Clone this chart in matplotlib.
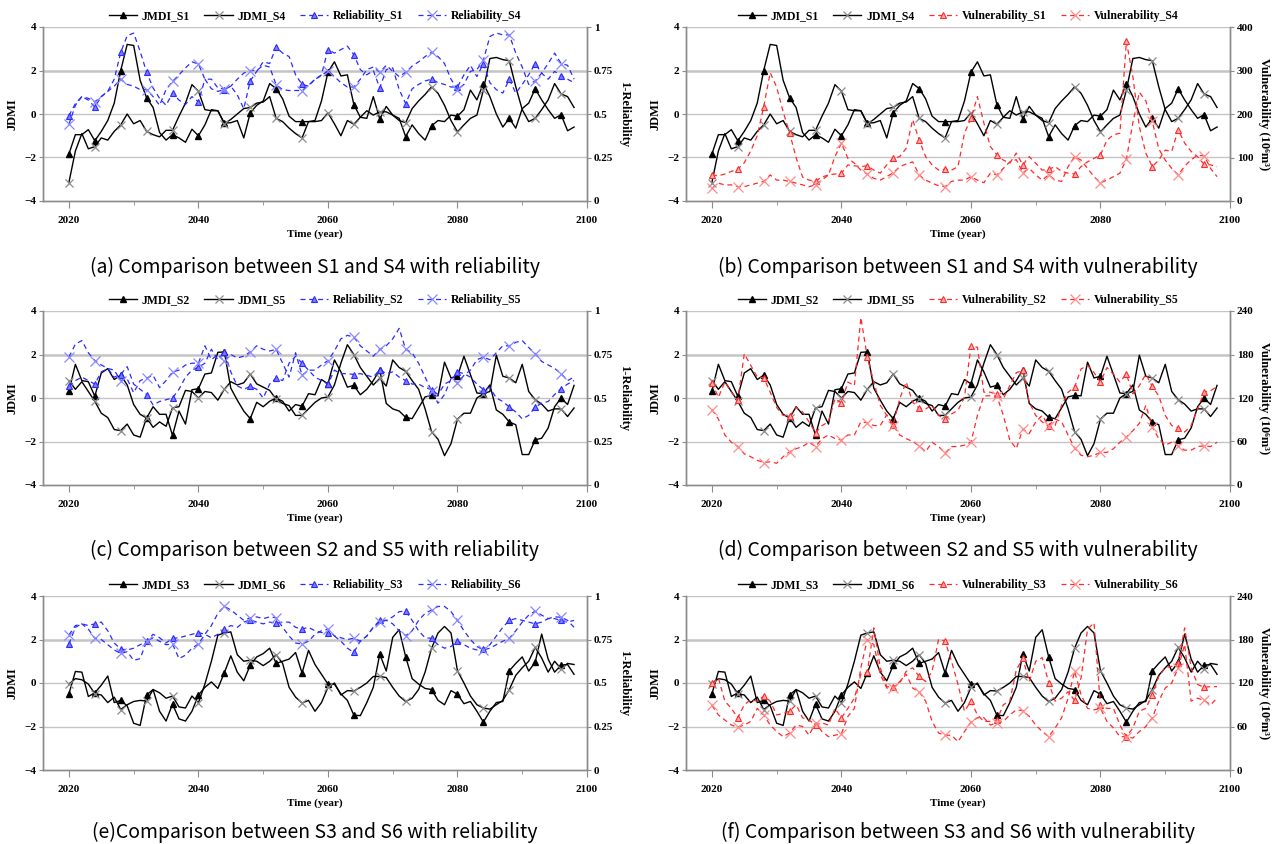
import numpy as np
import matplotlib
matplotlib.use("Agg")
import matplotlib.pyplot as plt
from matplotlib.ticker import MultipleLocator

# data: annual values 2020-2098
years = np.arange(2020, 2099)

jmdi_s1 = [-1.84, -0.95, -0.95, -0.72, -1.23, -0.8, -0.3, 0.5, 2.0, 3.2,
           3.15, 1.55, 0.74, 0.3, -0.85, -1.2, -0.95, -1.1, -1.3, -0.7,
           -1.0, -0.5, 0.2, 0.15, -0.42, -0.4, -0.3, -1.1, 0.05, 0.4,
           0.6, 1.4, 1.17, 0.7, -0.1, -0.35, -0.35, -0.35, -0.3, 0.6,
           1.92, 2.4, 1.75, 1.8, 0.43, -0.15, -0.2, 0.8, -0.23, 0.35,
           -0.05, -0.2, -1.04, -0.5, -0.9, -1.2, -0.54, -0.3, -0.35, -0.05,
           -0.1, 0.2, 1.1, 0.65, 1.4, 0.8, 0.0, -0.6, -0.2, -0.65,
           0.25, 0.5, 1.16, 0.65, 0.2, -0.2, -0.03, -0.77, -0.6]
jdmi_s4 = [-3.15, -1.7, -0.9, -1.6, -1.5, -1.1, -1.2, -0.8, -0.5, 0.0,
           -0.45, -0.3, -0.8, -0.95, -1.05, -0.75, -0.75, -0.1, 0.5, 1.35,
           1.05, 0.2, 0.15, 0.15, -0.45, -0.25, 0.0, 0.25, 0.3, 0.5,
           0.55, 0.8, -0.2, -0.35, -0.65, -0.9, -1.1, -0.35, -0.35, -0.3,
           0.05, -0.45, -1.0, -0.3, -0.47, -0.15, 0.15, -0.05, 0.1, 0.1,
           -0.05, -0.3, -0.4, 0.25, 0.6, 0.9, 1.25, 0.95, 0.4, -0.3,
           -0.82, -0.5, -0.2, -0.05, 1.1, 2.55, 2.6, 2.5, 2.45, 1.25,
           0.2, -0.35, -0.2, 0.2, 0.65, 1.4, 0.92, 0.8, 0.3]
jmdi_s2 = [0.31, 1.55, 0.8, 0.75, 0.08, 1.15, 1.35, 0.85, 1.05, 0.6,
           -0.3, -0.75, -0.92, -0.4, -0.75, -0.75, -1.72, -0.6, -1.2, 0.38,
           0.43, 1.1, 1.15, 2.1, 2.12, 0.45, -0.1, -0.6, -0.95, -0.2,
           -0.4, -0.15, 0.0, -0.15, -0.6, -0.3, -0.38, 0.2, 0.15, 0.85,
           0.65, 1.75, 1.2, 0.5, 0.58, 0.15, 0.4, 0.8, 1.3, -0.25,
           -0.5, -0.6, -0.89, -0.95, -0.45, 0.05, 0.12, 0.1, 1.65, 0.92,
           1.0, 1.92, 1.08, 0.23, 0.2, 0.6, -0.55, -0.75, -1.1, -1.23,
           -2.6, -2.6, -1.92, -1.85, -1.38, -0.4, 0.0, -0.3, 0.58]
jdmi_s5 = [0.8, 0.4, 0.75, 0.3, -0.15, -0.7, -0.9, -1.45, -1.5, -1.2,
           -1.7, -1.8, -0.9, -1.35, -1.1, -1.3, -0.45, -0.4, 0.35, 0.3,
           0.0, 0.3, 0.25, -0.1, 0.4, 0.75, 0.6, 0.7, 1.1, 0.65,
           0.5, 0.35, -0.05, -0.25, -0.35, -0.8, -0.8, -0.5, -0.2, 0.0,
           0.05, 0.6, 1.6, 2.45, 2.0, 1.4, 1.0, 0.6, 0.9, 0.55,
           1.75, 1.4, 1.23, 0.8, 0.4, -0.5, -1.55, -1.9, -2.65, -2.1,
           -0.97, -0.7, -0.7, 0.0, 0.2, 0.3, 1.97, 1.0, 0.92, 0.7,
           1.55, 0.3, -0.08, -0.28, -0.6, -0.5, -0.5, -0.85, -0.46]
jmdi_s3 = [-0.5, 0.53, 0.5, -0.62, -0.45, -0.1, 0.32, -0.9, -0.8, -1.05,
           -1.85, -1.95, -0.55, -0.3, -1.3, -1.75, -0.97, -1.65, -1.75, -1.3,
           -0.55, -0.2, 0.05, -0.25, 0.47, 1.25, 0.5, 0.1, 0.82, 1.2,
           1.35, 1.6, 0.9, 1.0, 1.1, 1.4, 0.46, 1.5, 0.85, 0.4,
           -0.05, -0.05, -0.5, -0.8, -1.48, -1.5, -0.9, -0.2, 1.33, 0.55,
           2.1, 2.45, 1.2, 0.2, -0.05, -0.25, -0.3, -0.8, -1.0, -0.35,
           -0.52, -0.95, -0.85, -1.3, -1.8, -1.3, -0.9, -0.85, 0.56, 0.9,
           1.2, 0.55, 0.96, 2.25, 1.1, 0.5, 0.82, 0.85, 0.4]
jdmi_s6 = [-0.05, 0.2, 0.15, -0.05, -0.49, -0.55, -0.9, -0.65, -1.22, -1.0,
           -0.85, -0.8, -0.83, -0.3, -0.45, -0.7, -0.6, -1.1, -1.15, -0.6,
           -0.91, -0.05, 1.0, 2.2, 2.3, 2.35, 1.3, 1.0, 1.05, 1.0,
           0.8, 1.0, 1.3, 0.9, -0.2, -0.65, -0.92, -0.8, -1.3, -0.9,
           -0.2, 0.0, -0.55, -0.35, -0.37, -0.2, 0.0, 0.3, 0.3, 0.25,
           -0.2, -0.6, -0.85, -0.7, -0.3, 0.5, 1.6, 2.3, 2.6, 2.3,
           0.56, 0.0, -0.6, -1.0, -1.15, -1.2, -1.0, -0.8, -0.3, 0.35,
           0.7, 1.0, 1.64, 1.15, 0.5, 1.0, 0.65, 0.9, 0.85]

rel_s1 = [0.49, 0.56, 0.60, 0.58, 0.54, 0.60, 0.63, 0.70, 0.854, 0.95,
          0.965, 0.86, 0.74, 0.65, 0.59, 0.55, 0.62, 0.58, 0.555, 0.60,
          0.57, 0.70, 0.645, 0.63, 0.64, 0.66, 0.61, 0.53, 0.69, 0.745,
          0.80, 0.79, 0.885, 0.85, 0.83, 0.725, 0.67, 0.66, 0.70, 0.725,
          0.87, 0.85, 0.87, 0.89, 0.84, 0.755, 0.725, 0.75, 0.65, 0.755,
          0.765, 0.64, 0.56, 0.645, 0.67, 0.69, 0.70, 0.68, 0.67, 0.655,
          0.655, 0.725, 0.78, 0.715, 0.79, 0.68, 0.64, 0.62, 0.70, 0.62,
          0.67, 0.725, 0.79, 0.735, 0.70, 0.745, 0.72, 0.70, 0.68]
rel_s4 = [0.44, 0.55, 0.60, 0.59, 0.57, 0.60, 0.63, 0.66, 0.70, 0.67,
          0.66, 0.64, 0.64, 0.60, 0.55, 0.64, 0.687, 0.725, 0.765, 0.80,
          0.787, 0.70, 0.70, 0.65, 0.643, 0.66, 0.70, 0.735, 0.75, 0.75,
          0.78, 0.77, 0.668, 0.64, 0.635, 0.635, 0.635, 0.665, 0.70, 0.72,
          0.75, 0.715, 0.68, 0.655, 0.655, 0.70, 0.755, 0.77, 0.74, 0.78,
          0.745, 0.715, 0.74, 0.775, 0.80, 0.83, 0.855, 0.83, 0.79, 0.70,
          0.64, 0.67, 0.745, 0.755, 0.81, 0.945, 0.965, 0.955, 0.955, 0.85,
          0.77, 0.67, 0.69, 0.735, 0.79, 0.85, 0.79, 0.78, 0.70]
rel_s2 = [0.567, 0.60, 0.62, 0.60, 0.58, 0.65, 0.67, 0.62, 0.635, 0.68,
          0.58, 0.55, 0.52, 0.46, 0.48, 0.49, 0.50, 0.55, 0.62, 0.66,
          0.677, 0.70, 0.78, 0.72, 0.765, 0.65, 0.57, 0.55, 0.567, 0.55,
          0.50, 0.58, 0.615, 0.60, 0.70, 0.74, 0.70, 0.66, 0.62, 0.60,
          0.58, 0.66, 0.64, 0.64, 0.635, 0.64, 0.63, 0.62, 0.663, 0.64,
          0.65, 0.62, 0.60, 0.58, 0.58, 0.56, 0.548, 0.52, 0.58, 0.60,
          0.65, 0.64, 0.62, 0.58, 0.548, 0.56, 0.50, 0.48, 0.448, 0.42,
          0.38, 0.40, 0.448, 0.47, 0.48, 0.52, 0.554, 0.58, 0.60]
rel_s5 = [0.735, 0.81, 0.83, 0.76, 0.715, 0.69, 0.67, 0.66, 0.60, 0.61,
          0.53, 0.60, 0.615, 0.63, 0.56, 0.60, 0.65, 0.66, 0.69, 0.70,
          0.70, 0.80, 0.72, 0.75, 0.71, 0.75, 0.73, 0.74, 0.765, 0.80,
          0.78, 0.77, 0.78, 0.70, 0.62, 0.76, 0.63, 0.66, 0.66, 0.69,
          0.715, 0.77, 0.84, 0.86, 0.85, 0.80, 0.77, 0.74, 0.78, 0.80,
          0.84, 0.90, 0.78, 0.76, 0.70, 0.62, 0.54, 0.47, 0.52, 0.61,
          0.587, 0.63, 0.66, 0.72, 0.735, 0.72, 0.76, 0.80, 0.80, 0.82,
          0.83, 0.79, 0.755, 0.71, 0.69, 0.67, 0.64, 0.60, 0.62]
rel_s3 = [0.724, 0.82, 0.84, 0.83, 0.84, 0.85, 0.80, 0.73, 0.695, 0.69,
          0.70, 0.72, 0.74, 0.78, 0.76, 0.73, 0.757, 0.76, 0.77, 0.78,
          0.79, 0.78, 0.76, 0.78, 0.81, 0.83, 0.82, 0.85, 0.863, 0.85,
          0.84, 0.85, 0.844, 0.85, 0.85, 0.82, 0.81, 0.82, 0.80, 0.79,
          0.79, 0.77, 0.74, 0.70, 0.676, 0.74, 0.77, 0.82, 0.86, 0.86,
          0.88, 0.91, 0.913, 0.86, 0.80, 0.76, 0.757, 0.72, 0.70, 0.71,
          0.74, 0.72, 0.70, 0.69, 0.695, 0.72, 0.77, 0.82, 0.86, 0.87,
          0.86, 0.85, 0.84, 0.85, 0.87, 0.87, 0.86, 0.85, 0.86]
rel_s6 = [0.776, 0.83, 0.84, 0.81, 0.757, 0.75, 0.72, 0.69, 0.67, 0.68,
          0.63, 0.64, 0.74, 0.76, 0.74, 0.72, 0.724, 0.64, 0.66, 0.70,
          0.724, 0.78, 0.83, 0.90, 0.94, 0.92, 0.89, 0.86, 0.875, 0.88,
          0.87, 0.88, 0.875, 0.82, 0.77, 0.73, 0.724, 0.74, 0.78, 0.80,
          0.81, 0.77, 0.76, 0.75, 0.757, 0.74, 0.77, 0.82, 0.85, 0.86,
          0.84, 0.80, 0.772, 0.80, 0.86, 0.90, 0.92, 0.94, 0.94, 0.91,
          0.86, 0.80, 0.75, 0.71, 0.69, 0.70, 0.72, 0.74, 0.757, 0.80,
          0.85, 0.89, 0.913, 0.89, 0.87, 0.88, 0.878, 0.86, 0.82]

vul_s1 = [60, 58, 62, 68, 73, 88, 115, 150, 217, 295,
          262, 205, 156, 100, 55, 48, 46, 55, 60, 62,
          64, 83, 81, 79, 81, 71, 64, 83, 98, 102,
          121, 187, 140, 102, 83, 71, 73, 71, 79, 156,
          190, 240, 179, 125, 106, 94, 87, 110, 83, 102,
          87, 71, 73, 79, 68, 64, 62, 79, 90, 98,
          106, 140, 152, 156, 367, 286, 171, 110, 79, 94,
          117, 114, 164, 133, 114, 102, 84, 83, 79]
vul_s4 = [29, 41, 37, 37, 33, 33, 37, 41, 45, 60,
          48, 48, 45, 41, 37, 33, 37, 48, 60, 102,
          133, 98, 87, 71, 62, 52, 48, 56, 65, 79,
          85, 90, 60, 48, 41, 35, 33, 45, 48, 48,
          56, 48, 42, 64, 60, 75, 90, 95, 65, 75,
          60, 48, 60, 48, 45, 79, 102, 94, 75, 56,
          42, 48, 56, 64, 96, 180, 250, 230, 183, 120,
          94, 75, 60, 80, 95, 105, 104, 75, 56]
vul_s2 = [141, 121, 142, 128, 117, 181, 165, 149, 148, 128,
          107, 96, 95, 107, 101, 87, 72, 82, 87, 119,
          113, 142, 137, 231, 176, 142, 110, 96, 83, 119,
          142, 114, 106, 105, 110, 96, 91, 98, 103, 121,
          192, 190, 128, 128, 125, 119, 137, 155, 158, 114,
          96, 87, 81, 82, 110, 128, 135, 160, 165, 155,
          142, 162, 153, 142, 153, 126, 137, 153, 136, 123,
          96, 82, 79, 73, 82, 105, 128, 130, 136]
vul_s5 = [104, 91, 69, 59, 53, 43, 39, 34, 31, 32,
          30, 39, 46, 50, 53, 59, 53, 64, 69, 64,
          62, 69, 69, 87, 86, 82, 82, 97, 82, 69,
          64, 60, 54, 46, 59, 53, 44, 53, 53, 55,
          59, 96, 123, 123, 123, 96, 62, 50, 77, 71,
          87, 96, 82, 91, 87, 69, 51, 41, 39, 41,
          45, 45, 50, 59, 66, 75, 85, 110, 80, 64,
          55, 59, 54, 48, 48, 53, 54, 53, 59]
vul_s3 = [120, 127, 95, 85, 72, 90, 97, 95, 102, 95,
          76, 78, 81, 90, 72, 69, 62, 65, 62, 85,
          72, 85, 99, 132, 135, 196, 141, 115, 114, 120,
          136, 141, 129, 122, 136, 180, 178, 150, 118, 81,
          95, 76, 67, 67, 69, 90, 95, 138, 154, 122,
          150, 155, 120, 95, 99, 108, 96, 127, 194, 203,
          89, 85, 85, 62, 46, 58, 81, 85, 104, 129,
          141, 143, 148, 196, 141, 118, 114, 115, 115]
vul_s6 = [89, 76, 69, 62, 59, 62, 67, 85, 76, 62,
          53, 46, 51, 62, 60, 48, 65, 53, 46, 48,
          50, 74, 85, 141, 180, 173, 132, 113, 113, 122,
          132, 113, 108, 95, 67, 51, 48, 48, 39, 53,
          66, 72, 72, 62, 65, 67, 76, 83, 82, 74,
          62, 53, 46, 58, 72, 99, 136, 104, 85, 83,
          85, 67, 58, 46, 46, 44, 53, 60, 72, 95,
          113, 120, 141, 173, 95, 99, 96, 90, 99]

SERIF = ['Liberation Serif', 'DejaVu Serif']
GRAY = '#8c8c8c'

fig = plt.figure(figsize=(12.87, 8.44), dpi=100)

col_x = [43 / 1287, 686 / 1287]
ax_w = 544 / 1287
row_bottom = [1 - 201 / 844, 1 - 485 / 844, 1 - 770 / 844]
ax_h = 174 / 844
cap_y = [1 - 267 / 844, 1 - 550 / 844, 1 - 832 / 844]


def style_ticks(a):
    for lab in a.get_xticklabels() + a.get_yticklabels():
        lab.set_family(SERIF)
        lab.set_fontweight('bold')
        lab.set_fontsize(8)


def panel(row, col, jm_a, jm_b, sec_a, sec_b, names, kind, caption):
    ax = fig.add_axes([col_x[col], row_bottom[row], ax_w, ax_h])
    ax2 = ax.twinx()

    ax.set_xlim(2016, 2100)
    ax.set_ylim(-4, 4)
    ax.set_yticks([-4, -2, 0, 2, 4])
    ax.set_xticks([2020, 2040, 2060, 2080, 2100])
    ax.xaxis.set_minor_locator(MultipleLocator(10))
    for v in [-2, 0, 2, 4]:
        ax.axhline(v, color='#c4c4c4', lw=1.0 if v != 2 else 1.8, zorder=0)

    for s in ['top']:
        ax.spines[s].set_visible(False)
        ax2.spines[s].set_visible(False)
    for a in (ax, ax2):
        for s in ['left', 'right', 'bottom']:
            a.spines[s].set_color(GRAY)
            a.spines[s].set_linewidth(1.0)
    ax.tick_params(axis='x', which='major', length=5, color=GRAY, pad=6)
    ax.tick_params(axis='x', which='minor', length=3, color=GRAY)
    ax.tick_params(axis='y', length=3, color=GRAY, pad=2)
    ax2.tick_params(axis='y', length=3, color=GRAY, pad=2)

    l1, = ax.plot(years, jm_a, color='black', lw=1.0, marker='^', ms=4.5,
                  mfc='black', mec='black', markevery=4, label=names[0], zorder=3)
    l2, = ax.plot(years, jm_b, color='black', lw=1.0, marker='x', ms=6,
                  mec=GRAY, mew=0.9, markevery=4, label=names[1], zorder=3)

    if kind == 'rel':
        c_line, c_tri, c_x = '#2b2bff', '#7d7dff', '#8a8aff'
        ax2.set_ylim(0, 1)
        ax2.set_yticks([0, 0.25, 0.5, 0.75, 1])
        ax2.set_yticklabels(['0', '0.25', '0.5', '0.75', '1'])
        ylab = '1-Reliability'
    else:
        c_line, c_tri, c_x = '#ff2a2a', '#ffb0b0', '#ff8c8c'
        top = max(max(sec_a), max(sec_b))
        if top > 240:
            ax2.set_ylim(0, 400)
            ax2.set_yticks([0, 100, 200, 300, 400])
        else:
            ax2.set_ylim(0, 240)
            ax2.set_yticks([0, 60, 120, 180, 240])
        ylab = 'Vulnerability (10\u2076m\u00b3)'

    l3, = ax2.plot(years, sec_a, color=c_line, lw=0.9, dashes=(4, 3), marker='^',
                   ms=5, mfc=c_tri, mec=c_line, mew=0.8, markevery=4, label=names[2])
    l4, = ax2.plot(years, sec_b, color=c_line, lw=0.9, dashes=(4, 3), marker='x',
                   ms=7, mec=c_x, mew=0.9, markevery=4, label=names[3])

    ax.set_ylabel('JDMI', family=SERIF, fontweight='bold', fontsize=9, labelpad=4)
    ax2.set_ylabel(ylab, family=SERIF, fontweight='bold', fontsize=9,
                   rotation=270, labelpad=12)
    ax.set_xlabel('Time (year)', family=SERIF, fontweight='bold', fontsize=8,
                  labelpad=3)
    style_ticks(ax)
    style_ticks(ax2)

    ax.legend(handles=[l1, l2, l3, l4], loc='lower center',
              bbox_to_anchor=(0.5, 0.99), ncol=4, frameon=False,
              handlelength=2.4, columnspacing=1.2, handletextpad=0.4,
              borderaxespad=0.2,
              prop={'family': SERIF, 'weight': 'bold', 'size': 8.5})

    cx = col_x[col] + ax_w / 2
    fig.text(cx, cap_y[row], caption, ha='center', va='center', fontsize=14,
             fontweight='light', family=['Noto Sans CJK KR', 'DejaVu Sans'])


panel(0, 0, jmdi_s1, jdmi_s4, rel_s1, rel_s4,
      ['JMDI_S1', 'JDMI_S4', 'Reliability_S1', 'Reliability_S4'], 'rel',
      '(a) Comparison between S1 and S4 with reliability')
panel(0, 1, jmdi_s1, jdmi_s4, vul_s1, vul_s4,
      ['JMDI_S1', 'JDMI_S4', 'Vulnerability_S1', 'Vulnerability_S4'], 'vul',
      '(b) Comparison between S1 and S4 with vulnerability')
panel(1, 0, jmdi_s2, jdmi_s5, rel_s2, rel_s5,
      ['JMDI_S2', 'JDMI_S5', 'Reliability_S2', 'Reliability_S5'], 'rel',
      '(c) Comparison between S2 and S5 with reliability')
panel(1, 1, jmdi_s2, jdmi_s5, vul_s2, vul_s5,
      ['JDMI_S2', 'JDMI_S5', 'Vulnerability_S2', 'Vulnerability_S5'], 'vul',
      '(d) Comparison between S2 and S5 with vulnerability')
panel(2, 0, jmdi_s3, jdmi_s6, rel_s3, rel_s6,
      ['JMDI_S3', 'JDMI_S6', 'Reliability_S3', 'Reliability_S6'], 'rel',
      '(e)Comparison between S3 and S6 with reliability')
panel(2, 1, jmdi_s3, jdmi_s6, vul_s3, vul_s6,
      ['JDMI_S3', 'JDMI_S6', 'Vulnerability_S3', 'Vulnerability_S6'], 'vul',
      '(f) Comparison between S3 and S6 with vulnerability')

fig.savefig('out.png', dpi=100)
